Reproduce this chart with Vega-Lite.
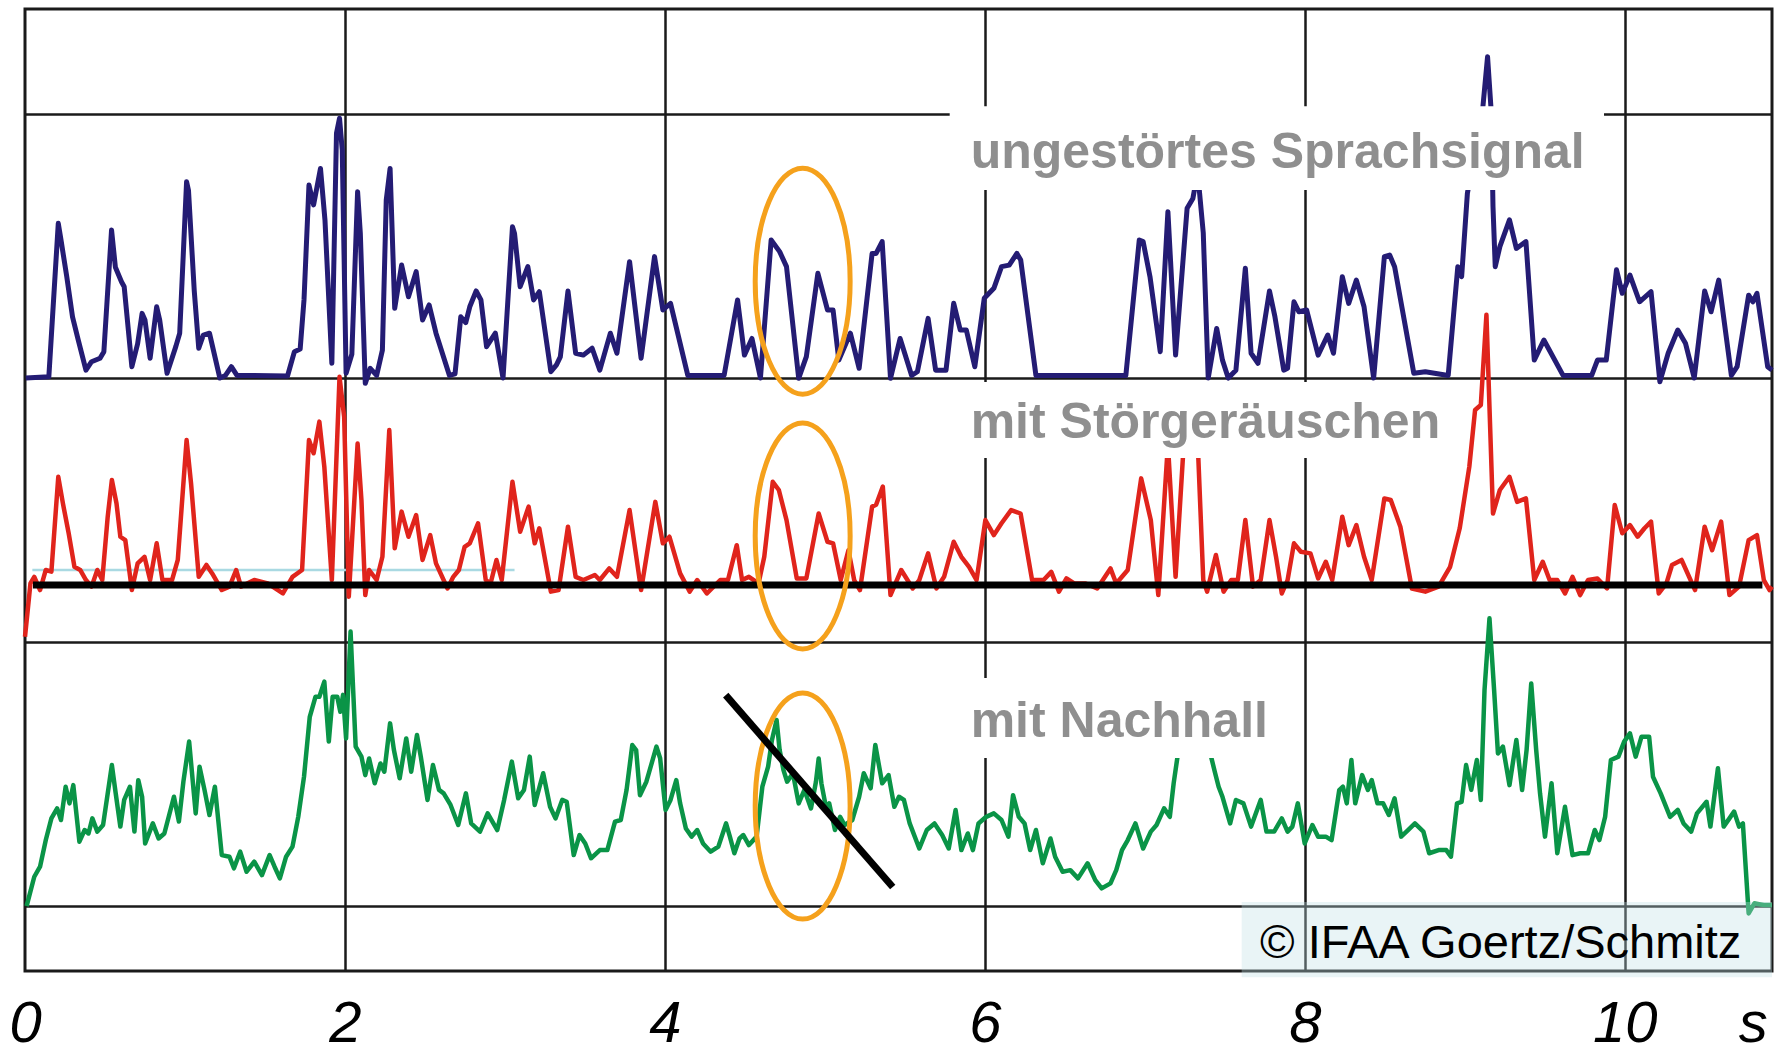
{
  "$schema": "https://vega.github.io/schema/vega-lite/v6.json",
  "width": 1747,
  "height": 962,
  "autosize": {"type": "none"},
  "padding": {"left": 25, "top": 9, "right": 3, "bottom": 82},
  "background": "white",
  "config": {
    "view": {"stroke": "#1a1a1a", "strokeWidth": 3},
    "axis": {"gridColor": "#1a1a1a", "gridWidth": 2.5}
  },
  "datasets": {
    "blue": [
      {"t":0.005,"v":2.0},{"t":0.149,"v":2.005},{"t":0.208,"v":2.586},{"t":0.225,"v":2.523},{"t":0.261,"v":2.384},{"t":0.297,"v":2.232},{"t":0.333,"v":2.144},{"t":0.381,"v":2.03},{"t":0.416,"v":2.062},{"t":0.469,"v":2.075},{"t":0.493,"v":2.1},{"t":0.541,"v":2.561},{"t":0.565,"v":2.42},{"t":0.603,"v":2.365},{"t":0.62,"v":2.346},{"t":0.668,"v":2.043},{"t":0.704,"v":2.13},{"t":0.732,"v":2.245},{"t":0.75,"v":2.22},{"t":0.782,"v":2.075},{"t":0.823,"v":2.27},{"t":0.842,"v":2.22},{"t":0.888,"v":2.018},{"t":0.943,"v":2.12},{"t":0.967,"v":2.17},{"t":1.01,"v":2.744},{"t":1.022,"v":2.71},{"t":1.058,"v":2.33},{"t":1.086,"v":2.113},{"t":1.115,"v":2.163},{"t":1.153,"v":2.17},{"t":1.218,"v":2.0},{"t":1.253,"v":2.01},{"t":1.29,"v":2.043},{"t":1.325,"v":2.01},{"t":1.641,"v":2.008},{"t":1.684,"v":2.1},{"t":1.72,"v":2.11},{"t":1.744,"v":2.296},{"t":1.775,"v":2.731},{"t":1.804,"v":2.656},{"t":1.847,"v":2.794},{"t":1.875,"v":2.599},{"t":1.918,"v":2.056},{"t":1.947,"v":2.927},{"t":1.966,"v":2.984},{"t":1.983,"v":2.864},{"t":2.007,"v":2.018},{"t":2.043,"v":2.09},{"t":2.079,"v":2.706},{"t":2.096,"v":2.548},{"t":2.127,"v":1.98},{"t":2.158,"v":2.037},{"t":2.198,"v":2.01},{"t":2.234,"v":2.106},{"t":2.258,"v":2.674},{"t":2.282,"v":2.794},{"t":2.311,"v":2.264},{"t":2.354,"v":2.428},{"t":2.397,"v":2.308},{"t":2.445,"v":2.403},{"t":2.485,"v":2.22},{"t":2.526,"v":2.277},{"t":2.569,"v":2.17},{"t":2.653,"v":2.01},{"t":2.688,"v":2.016},{"t":2.724,"v":2.232},{"t":2.755,"v":2.21},{"t":2.78,"v":2.27},{"t":2.82,"v":2.33},{"t":2.85,"v":2.296},{"t":2.885,"v":2.119},{"t":2.94,"v":2.17},{"t":2.988,"v":2.0},{"t":3.047,"v":2.573},{"t":3.06,"v":2.548},{"t":3.095,"v":2.346},{"t":3.143,"v":2.422},{"t":3.179,"v":2.296},{"t":3.215,"v":2.327},{"t":3.287,"v":2.024},{"t":3.322,"v":2.05},{"t":3.346,"v":2.08},{"t":3.394,"v":2.33},{"t":3.442,"v":2.094},{"t":3.49,"v":2.087},{"t":3.545,"v":2.113},{"t":3.593,"v":2.03},{"t":3.659,"v":2.17},{"t":3.7,"v":2.094},{"t":3.779,"v":2.441},{"t":3.851,"v":2.075},{"t":3.935,"v":2.46},{"t":3.987,"v":2.258},{"t":4.035,"v":2.283},{"t":4.143,"v":2.01},{"t":4.37,"v":2.01},{"t":4.454,"v":2.296},{"t":4.497,"v":2.087},{"t":4.544,"v":2.15},{"t":4.597,"v":2.0},{"t":4.664,"v":2.523},{"t":4.717,"v":2.479},{"t":4.76,"v":2.422},{"t":4.836,"v":1.999},{"t":4.884,"v":2.081},{"t":4.956,"v":2.397},{"t":5.016,"v":2.258},{"t":5.051,"v":2.258},{"t":5.087,"v":2.068},{"t":5.159,"v":2.17},{"t":5.214,"v":2.037},{"t":5.295,"v":2.472},{"t":5.32,"v":2.472},{"t":5.358,"v":2.517},{"t":5.41,"v":1.999},{"t":5.47,"v":2.15},{"t":5.542,"v":2.01},{"t":5.578,"v":2.024},{"t":5.645,"v":2.226},{"t":5.692,"v":2.03},{"t":5.757,"v":2.03},{"t":5.805,"v":2.283},{"t":5.846,"v":2.182},{"t":5.884,"v":2.182},{"t":5.937,"v":2.043},{"t":5.996,"v":2.302},{"t":6.056,"v":2.34},{"t":6.104,"v":2.422},{"t":6.152,"v":2.428},{"t":6.2,"v":2.472},{"t":6.224,"v":2.447},{"t":6.319,"v":2.01},{"t":6.881,"v":2.01},{"t":6.965,"v":2.523},{"t":6.989,"v":2.517},{"t":7.032,"v":2.384},{"t":7.096,"v":2.1},{"t":7.144,"v":2.63},{"t":7.192,"v":2.087},{"t":7.264,"v":2.643},{"t":7.3,"v":2.68},{"t":7.33,"v":2.78},{"t":7.365,"v":2.55},{"t":7.396,"v":2.0},{"t":7.449,"v":2.188},{"t":7.485,"v":2.068},{"t":7.521,"v":2.0},{"t":7.569,"v":2.03},{"t":7.628,"v":2.416},{"t":7.664,"v":2.094},{"t":7.707,"v":2.056},{"t":7.779,"v":2.33},{"t":7.813,"v":2.232},{"t":7.868,"v":2.03},{"t":7.892,"v":2.037},{"t":7.932,"v":2.289},{"t":7.963,"v":2.251},{"t":8.011,"v":2.258},{"t":8.083,"v":2.087},{"t":8.143,"v":2.163},{"t":8.179,"v":2.094},{"t":8.234,"v":2.384},{"t":8.274,"v":2.283},{"t":8.322,"v":2.371},{"t":8.37,"v":2.27},{"t":8.43,"v":2.0},{"t":8.497,"v":2.46},{"t":8.53,"v":2.466},{"t":8.561,"v":2.422},{"t":8.681,"v":2.018},{"t":8.753,"v":2.024},{"t":8.896,"v":2.01},{"t":8.956,"v":2.422},{"t":8.98,"v":2.384},{"t":9.016,"v":2.7},{"t":9.111,"v":3.015},{"t":9.142,"v":3.217},{"t":9.166,"v":3.0},{"t":9.176,"v":2.65},{"t":9.19,"v":2.422},{"t":9.219,"v":2.498},{"t":9.279,"v":2.599},{"t":9.322,"v":2.491},{"t":9.382,"v":2.517},{"t":9.434,"v":2.068},{"t":9.494,"v":2.144},{"t":9.614,"v":2.01},{"t":9.793,"v":2.01},{"t":9.829,"v":2.068},{"t":9.884,"v":2.068},{"t":9.948,"v":2.41},{"t":9.984,"v":2.321},{"t":10.032,"v":2.39},{"t":10.092,"v":2.289},{"t":10.164,"v":2.327},{"t":10.219,"v":1.986},{"t":10.271,"v":2.094},{"t":10.331,"v":2.182},{"t":10.379,"v":2.132},{"t":10.434,"v":2.0},{"t":10.499,"v":2.33},{"t":10.539,"v":2.251},{"t":10.587,"v":2.371},{"t":10.666,"v":2.01},{"t":10.702,"v":2.043},{"t":10.774,"v":2.314},{"t":10.8,"v":2.289},{"t":10.826,"v":2.321},{"t":10.893,"v":2.043},{"t":10.92,"v":2.03}
    ],
    "red": [
      {"t":0.0,"v":1.02},{"t":0.034,"v":1.222},{"t":0.058,"v":1.247},{"t":0.094,"v":1.197},{"t":0.13,"v":1.273},{"t":0.165,"v":1.267},{"t":0.208,"v":1.626},{"t":0.237,"v":1.525},{"t":0.273,"v":1.412},{"t":0.309,"v":1.285},{"t":0.345,"v":1.273},{"t":0.381,"v":1.235},{"t":0.416,"v":1.21},{"t":0.452,"v":1.273},{"t":0.483,"v":1.235},{"t":0.517,"v":1.475},{"t":0.543,"v":1.614},{"t":0.572,"v":1.525},{"t":0.596,"v":1.399},{"t":0.627,"v":1.386},{"t":0.668,"v":1.197},{"t":0.704,"v":1.298},{"t":0.747,"v":1.323},{"t":0.782,"v":1.235},{"t":0.823,"v":1.374},{"t":0.859,"v":1.235},{"t":0.919,"v":1.235},{"t":0.955,"v":1.311},{"t":1.01,"v":1.765},{"t":1.038,"v":1.601},{"t":1.086,"v":1.247},{"t":1.134,"v":1.292},{"t":1.17,"v":1.26},{"t":1.23,"v":1.197},{"t":1.278,"v":1.21},{"t":1.32,"v":1.273},{"t":1.35,"v":1.21},{"t":1.433,"v":1.235},{"t":1.517,"v":1.222},{"t":1.612,"v":1.184},{"t":1.672,"v":1.247},{"t":1.732,"v":1.273},{"t":1.775,"v":1.765},{"t":1.804,"v":1.715},{"t":1.84,"v":1.835},{"t":1.871,"v":1.664},{"t":1.918,"v":1.235},{"t":1.966,"v":2.005},{"t":1.995,"v":1.853},{"t":2.024,"v":1.172},{"t":2.079,"v":1.752},{"t":2.103,"v":1.538},{"t":2.127,"v":1.178},{"t":2.151,"v":1.273},{"t":2.198,"v":1.235},{"t":2.234,"v":1.323},{"t":2.277,"v":1.803},{"t":2.311,"v":1.355},{"t":2.354,"v":1.494},{"t":2.397,"v":1.399},{"t":2.445,"v":1.481},{"t":2.485,"v":1.311},{"t":2.533,"v":1.405},{"t":2.569,"v":1.298},{"t":2.641,"v":1.203},{"t":2.677,"v":1.247},{"t":2.712,"v":1.273},{"t":2.748,"v":1.361},{"t":2.78,"v":1.374},{"t":2.832,"v":1.45},{"t":2.88,"v":1.235},{"t":2.91,"v":1.222},{"t":2.947,"v":1.311},{"t":2.98,"v":1.235},{"t":3.047,"v":1.607},{"t":3.095,"v":1.418},{"t":3.148,"v":1.513},{"t":3.186,"v":1.374},{"t":3.215,"v":1.431},{"t":3.287,"v":1.191},{"t":3.335,"v":1.197},{"t":3.394,"v":1.437},{"t":3.442,"v":1.247},{"t":3.49,"v":1.235},{"t":3.562,"v":1.254},{"t":3.593,"v":1.235},{"t":3.652,"v":1.279},{"t":3.7,"v":1.247},{"t":3.779,"v":1.5},{"t":3.851,"v":1.197},{"t":3.94,"v":1.531},{"t":3.987,"v":1.374},{"t":4.028,"v":1.399},{"t":4.095,"v":1.26},{"t":4.155,"v":1.191},{"t":4.202,"v":1.235},{"t":4.262,"v":1.184},{"t":4.346,"v":1.235},{"t":4.394,"v":1.235},{"t":4.449,"v":1.367},{"t":4.482,"v":1.235},{"t":4.525,"v":1.247},{"t":4.585,"v":1.222},{"t":4.621,"v":1.323},{"t":4.674,"v":1.607},{"t":4.712,"v":1.576},{"t":4.76,"v":1.462},{"t":4.824,"v":1.241},{"t":4.884,"v":1.241},{"t":4.961,"v":1.487},{"t":5.016,"v":1.38},{"t":5.051,"v":1.374},{"t":5.099,"v":1.235},{"t":5.147,"v":1.348},{"t":5.183,"v":1.235},{"t":5.219,"v":1.197},{"t":5.295,"v":1.513},{"t":5.32,"v":1.52},{"t":5.362,"v":1.589},{"t":5.41,"v":1.178},{"t":5.477,"v":1.273},{"t":5.549,"v":1.203},{"t":5.59,"v":1.235},{"t":5.645,"v":1.336},{"t":5.697,"v":1.203},{"t":5.745,"v":1.247},{"t":5.805,"v":1.38},{"t":5.853,"v":1.323},{"t":5.901,"v":1.285},{"t":5.948,"v":1.235},{"t":6.003,"v":1.462},{"t":6.056,"v":1.405},{"t":6.104,"v":1.45},{"t":6.164,"v":1.5},{"t":6.223,"v":1.487},{"t":6.295,"v":1.235},{"t":6.367,"v":1.235},{"t":6.415,"v":1.266},{"t":6.463,"v":1.191},{"t":6.51,"v":1.241},{"t":6.558,"v":1.222},{"t":6.63,"v":1.222},{"t":6.702,"v":1.203},{"t":6.785,"v":1.279},{"t":6.821,"v":1.222},{"t":6.893,"v":1.273},{"t":6.977,"v":1.62},{"t":7.037,"v":1.462},{"t":7.084,"v":1.178},{"t":7.144,"v":1.75},{"t":7.192,"v":1.247},{"t":7.24,"v":1.72},{"t":7.3,"v":1.77},{"t":7.33,"v":1.76},{"t":7.365,"v":1.235},{"t":7.389,"v":1.191},{"t":7.444,"v":1.33},{"t":7.492,"v":1.191},{"t":7.54,"v":1.235},{"t":7.581,"v":1.235},{"t":7.628,"v":1.462},{"t":7.676,"v":1.21},{"t":7.724,"v":1.235},{"t":7.779,"v":1.462},{"t":7.82,"v":1.323},{"t":7.856,"v":1.184},{"t":7.892,"v":1.235},{"t":7.932,"v":1.374},{"t":7.975,"v":1.342},{"t":8.035,"v":1.336},{"t":8.083,"v":1.241},{"t":8.131,"v":1.304},{"t":8.171,"v":1.235},{"t":8.234,"v":1.475},{"t":8.274,"v":1.367},{"t":8.322,"v":1.443},{"t":8.37,"v":1.323},{"t":8.418,"v":1.235},{"t":8.497,"v":1.544},{"t":8.537,"v":1.538},{"t":8.597,"v":1.437},{"t":8.669,"v":1.203},{"t":8.753,"v":1.191},{"t":8.836,"v":1.21},{"t":8.908,"v":1.285},{"t":8.968,"v":1.431},{"t":9.028,"v":1.664},{"t":9.064,"v":1.879},{"t":9.1,"v":1.898},{"t":9.135,"v":2.24},{"t":9.176,"v":1.487},{"t":9.219,"v":1.576},{"t":9.279,"v":1.626},{"t":9.327,"v":1.531},{"t":9.382,"v":1.544},{"t":9.434,"v":1.235},{"t":9.487,"v":1.304},{"t":9.53,"v":1.235},{"t":9.578,"v":1.235},{"t":9.626,"v":1.184},{"t":9.673,"v":1.247},{"t":9.721,"v":1.178},{"t":9.77,"v":1.235},{"t":9.829,"v":1.241},{"t":9.889,"v":1.203},{"t":9.937,"v":1.519},{"t":9.984,"v":1.412},{"t":10.032,"v":1.443},{"t":10.08,"v":1.399},{"t":10.123,"v":1.431},{"t":10.164,"v":1.456},{"t":10.212,"v":1.184},{"t":10.26,"v":1.222},{"t":10.295,"v":1.292},{"t":10.355,"v":1.311},{"t":10.439,"v":1.197},{"t":10.499,"v":1.437},{"t":10.546,"v":1.348},{"t":10.602,"v":1.456},{"t":10.654,"v":1.178},{"t":10.714,"v":1.21},{"t":10.774,"v":1.386},{"t":10.826,"v":1.405},{"t":10.869,"v":1.235},{"t":10.905,"v":1.197},{"t":10.92,"v":1.21}
    ],
    "green": [
      {"t":0.01,"v":0.0},{"t":0.058,"v":0.111},{"t":0.094,"v":0.149},{"t":0.13,"v":0.25},{"t":0.165,"v":0.332},{"t":0.201,"v":0.37},{"t":0.225,"v":0.326},{"t":0.254,"v":0.452},{"t":0.278,"v":0.389},{"t":0.302,"v":0.458},{"t":0.34,"v":0.244},{"t":0.373,"v":0.288},{"t":0.397,"v":0.275},{"t":0.421,"v":0.332},{"t":0.452,"v":0.282},{"t":0.488,"v":0.307},{"t":0.543,"v":0.534},{"t":0.567,"v":0.427},{"t":0.596,"v":0.301},{"t":0.62,"v":0.402},{"t":0.656,"v":0.452},{"t":0.684,"v":0.282},{"t":0.708,"v":0.477},{"t":0.732,"v":0.414},{"t":0.751,"v":0.237},{"t":0.799,"v":0.313},{"t":0.835,"v":0.256},{"t":0.871,"v":0.275},{"t":0.931,"v":0.414},{"t":0.962,"v":0.32},{"t":0.99,"v":0.471},{"t":1.026,"v":0.623},{"t":1.067,"v":0.351},{"t":1.091,"v":0.528},{"t":1.122,"v":0.44},{"t":1.153,"v":0.345},{"t":1.187,"v":0.452},{"t":1.23,"v":0.193},{"t":1.278,"v":0.187},{"t":1.306,"v":0.143},{"t":1.345,"v":0.206},{"t":1.385,"v":0.13},{"t":1.433,"v":0.168},{"t":1.481,"v":0.117},{"t":1.529,"v":0.193},{"t":1.56,"v":0.149},{"t":1.593,"v":0.105},{"t":1.632,"v":0.187},{"t":1.672,"v":0.225},{"t":1.708,"v":0.338},{"t":1.744,"v":0.49},{"t":1.78,"v":0.717},{"t":1.816,"v":0.793},{"t":1.84,"v":0.793},{"t":1.871,"v":0.85},{"t":1.899,"v":0.623},{"t":1.923,"v":0.793},{"t":1.952,"v":0.793},{"t":1.971,"v":0.736},{"t":1.988,"v":0.8},{"t":2.007,"v":0.635},{"t":2.035,"v":1.04},{"t":2.067,"v":0.604},{"t":2.103,"v":0.566},{"t":2.127,"v":0.496},{"t":2.151,"v":0.559},{"t":2.186,"v":0.465},{"t":2.222,"v":0.54},{"t":2.246,"v":0.509},{"t":2.282,"v":0.692},{"t":2.306,"v":0.591},{"t":2.342,"v":0.484},{"t":2.383,"v":0.635},{"t":2.414,"v":0.509},{"t":2.45,"v":0.648},{"t":2.474,"v":0.566},{"t":2.516,"v":0.402},{"t":2.55,"v":0.534},{"t":2.588,"v":0.44},{"t":2.617,"v":0.427},{"t":2.66,"v":0.383},{"t":2.708,"v":0.307},{"t":2.756,"v":0.427},{"t":2.789,"v":0.313},{"t":2.844,"v":0.282},{"t":2.892,"v":0.351},{"t":2.952,"v":0.288},{"t":2.995,"v":0.402},{"t":3.043,"v":0.547},{"t":3.083,"v":0.408},{"t":3.119,"v":0.44},{"t":3.155,"v":0.566},{"t":3.186,"v":0.383},{"t":3.239,"v":0.503},{"t":3.282,"v":0.376},{"t":3.316,"v":0.332},{"t":3.358,"v":0.402},{"t":3.386,"v":0.395},{"t":3.43,"v":0.193},{"t":3.466,"v":0.269},{"t":3.502,"v":0.237},{"t":3.538,"v":0.181},{"t":3.593,"v":0.212},{"t":3.64,"v":0.212},{"t":3.688,"v":0.32},{"t":3.724,"v":0.326},{"t":3.76,"v":0.439},{"t":3.796,"v":0.61},{"t":3.82,"v":0.591},{"t":3.844,"v":0.42},{"t":3.884,"v":0.471},{"t":3.947,"v":0.604},{"t":3.97,"v":0.56},{"t":4.004,"v":0.364},{"t":4.035,"v":0.402},{"t":4.071,"v":0.477},{"t":4.095,"v":0.389},{"t":4.131,"v":0.294},{"t":4.167,"v":0.263},{"t":4.202,"v":0.288},{"t":4.238,"v":0.237},{"t":4.286,"v":0.206},{"t":4.334,"v":0.225},{"t":4.382,"v":0.313},{"t":4.406,"v":0.263},{"t":4.434,"v":0.2},{"t":4.466,"v":0.256},{"t":4.49,"v":0.269},{"t":4.525,"v":0.231},{"t":4.573,"v":0.263},{"t":4.609,"v":0.452},{"t":4.645,"v":0.528},{"t":4.669,"v":0.629},{"t":4.698,"v":0.705},{"t":4.717,"v":0.591},{"t":4.741,"v":0.515},{"t":4.764,"v":0.471},{"t":4.8,"v":0.503},{"t":4.836,"v":0.389},{"t":4.872,"v":0.44},{"t":4.913,"v":0.37},{"t":4.944,"v":0.471},{"t":4.961,"v":0.559},{"t":4.978,"v":0.465},{"t":5.008,"v":0.37},{"t":5.027,"v":0.389},{"t":5.063,"v":0.288},{"t":5.095,"v":0.338},{"t":5.123,"v":0.307},{"t":5.171,"v":0.326},{"t":5.214,"v":0.414},{"t":5.243,"v":0.503},{"t":5.286,"v":0.446},{"t":5.315,"v":0.61},{"t":5.358,"v":0.465},{"t":5.398,"v":0.496},{"t":5.434,"v":0.376},{"t":5.463,"v":0.414},{"t":5.494,"v":0.402},{"t":5.53,"v":0.313},{"t":5.59,"v":0.218},{"t":5.637,"v":0.288},{"t":5.685,"v":0.313},{"t":5.733,"v":0.269},{"t":5.774,"v":0.218},{"t":5.817,"v":0.364},{"t":5.853,"v":0.212},{"t":5.893,"v":0.275},{"t":5.925,"v":0.212},{"t":5.96,"v":0.313},{"t":6.008,"v":0.338},{"t":6.056,"v":0.351},{"t":6.104,"v":0.326},{"t":6.147,"v":0.263},{"t":6.176,"v":0.42},{"t":6.212,"v":0.338},{"t":6.248,"v":0.313},{"t":6.283,"v":0.212},{"t":6.319,"v":0.288},{"t":6.362,"v":0.162},{"t":6.41,"v":0.256},{"t":6.439,"v":0.187},{"t":6.486,"v":0.13},{"t":6.534,"v":0.136},{"t":6.582,"v":0.105},{"t":6.642,"v":0.162},{"t":6.69,"v":0.098},{"t":6.73,"v":0.067},{"t":6.785,"v":0.086},{"t":6.821,"v":0.136},{"t":6.857,"v":0.212},{"t":6.893,"v":0.25},{"t":6.941,"v":0.313},{"t":6.989,"v":0.218},{"t":7.037,"v":0.282},{"t":7.073,"v":0.307},{"t":7.12,"v":0.37},{"t":7.156,"v":0.338},{"t":7.18,"v":0.465},{"t":7.204,"v":0.566},{"t":7.25,"v":0.62},{"t":7.3,"v":0.6},{"t":7.35,"v":0.64},{"t":7.4,"v":0.6},{"t":7.437,"v":0.509},{"t":7.461,"v":0.452},{"t":7.485,"v":0.414},{"t":7.533,"v":0.313},{"t":7.569,"v":0.402},{"t":7.616,"v":0.389},{"t":7.664,"v":0.301},{"t":7.724,"v":0.402},{"t":7.76,"v":0.282},{"t":7.808,"v":0.282},{"t":7.856,"v":0.332},{"t":7.892,"v":0.282},{"t":7.922,"v":0.301},{"t":7.956,"v":0.389},{"t":7.999,"v":0.237},{"t":8.047,"v":0.307},{"t":8.083,"v":0.263},{"t":8.131,"v":0.263},{"t":8.167,"v":0.25},{"t":8.215,"v":0.439},{"t":8.238,"v":0.452},{"t":8.262,"v":0.389},{"t":8.291,"v":0.553},{"t":8.315,"v":0.389},{"t":8.358,"v":0.496},{"t":8.394,"v":0.44},{"t":8.418,"v":0.477},{"t":8.454,"v":0.389},{"t":8.489,"v":0.389},{"t":8.525,"v":0.345},{"t":8.561,"v":0.408},{"t":8.602,"v":0.263},{"t":8.645,"v":0.288},{"t":8.688,"v":0.313},{"t":8.741,"v":0.282},{"t":8.777,"v":0.2},{"t":8.836,"v":0.212},{"t":8.884,"v":0.212},{"t":8.913,"v":0.187},{"t":8.951,"v":0.389},{"t":8.98,"v":0.395},{"t":9.008,"v":0.534},{"t":9.04,"v":0.44},{"t":9.075,"v":0.553},{"t":9.1,"v":0.402},{"t":9.123,"v":0.818},{"t":9.154,"v":1.09},{"t":9.183,"v":0.818},{"t":9.207,"v":0.578},{"t":9.238,"v":0.604},{"t":9.279,"v":0.458},{"t":9.322,"v":0.629},{"t":9.358,"v":0.44},{"t":9.386,"v":0.591},{"t":9.415,"v":0.843},{"t":9.446,"v":0.591},{"t":9.47,"v":0.427},{"t":9.501,"v":0.263},{"t":9.542,"v":0.465},{"t":9.578,"v":0.2},{"t":9.626,"v":0.376},{"t":9.673,"v":0.193},{"t":9.721,"v":0.2},{"t":9.77,"v":0.2},{"t":9.812,"v":0.288},{"t":9.841,"v":0.25},{"t":9.877,"v":0.338},{"t":9.913,"v":0.553},{"t":9.96,"v":0.566},{"t":9.996,"v":0.623},{"t":10.032,"v":0.654},{"t":10.068,"v":0.566},{"t":10.104,"v":0.641},{"t":10.152,"v":0.641},{"t":10.176,"v":0.49},{"t":10.224,"v":0.427},{"t":10.283,"v":0.338},{"t":10.331,"v":0.364},{"t":10.367,"v":0.313},{"t":10.415,"v":0.282},{"t":10.451,"v":0.351},{"t":10.511,"v":0.395},{"t":10.535,"v":0.301},{"t":10.582,"v":0.522},{"t":10.618,"v":0.301},{"t":10.654,"v":0.332},{"t":10.683,"v":0.358},{"t":10.714,"v":0.301},{"t":10.738,"v":0.313},{"t":10.774,"v":-0.028},{"t":10.81,"v":0.01},{"t":10.869,"v":0.004},{"t":10.92,"v":0.004}
    ],
    "boxes": [
      {"t":5.78,"t2":9.87,"v":2.712,"v2":3.03},
      {"t":5.78,"t2":8.94,"v":1.697,"v2":1.985},
      {"t":5.78,"t2":7.8,"v":0.561,"v2":0.864}
    ],
    "labels": [
      {"t":5.911,"v":2.795,"text":"ungestörtes Sprachsignal"},
      {"t":5.911,"v":1.773,"text":"mit Störgeräuschen"},
      {"t":5.911,"v":0.64,"text":"mit Nachhall"}
    ],
    "rings": [
      {"t":4.861,"v":2.367},
      {"t":4.861,"v":1.402},
      {"t":4.861,"v":0.379}
    ],
    "diag": [{"t":4.38,"v":0.799,"t2":5.424,"v2":0.072}],
    "floor": [{"t":0.05,"t2":10.86,"v":1.216}],
    "thresh": [{"t":0.046,"t2":3.06,"v":1.273}],
    "creditbox": [{"t":7.605,"t2":10.92,"v":-0.27,"v2":0.015}],
    "credit": [{"t":7.72,"v":-0.197,"text":"© IFAA Goertz/Schmitz"}]
  },
  "encoding": {
    "x": {
      "field": "t",
      "type": "quantitative",
      "scale": {"domain": [0, 10.92], "nice": false, "zero": false},
      "axis": {
        "title": null,
        "values": [0, 2, 4, 6, 8, 10, 10.8],
        "grid": true,
        "gridOpacity": {"condition": {"test": "datum.value > 10.5 || datum.value < 0.5", "value": 0}, "value": 1},
        "labelExpr": "datum.value > 10.5 ? 's' : datum.label",
        "domain": false,
        "ticks": false,
        "labelPadding": 24,
        "labelFont": "Liberation Sans",
        "labelFontStyle": "italic",
        "labelFontSize": 58,
        "labelColor": "#000000",
        "labelBaseline": "top",
        "labelFlush": false,
        "labelOverlap": false,
        "labelBound": false
      }
    },
    "y": {
      "field": "v",
      "type": "quantitative",
      "scale": {"domain": [-0.246, 3.398], "nice": false, "zero": false},
      "axis": {"title": null, "values": [0, 1, 2, 3], "grid": true, "labels": false, "ticks": false, "domain": false}
    }
  },
  "layer": [
    {
      "data": {"name": "thresh"},
      "mark": {"type": "rule", "color": "#a9d9e2", "strokeWidth": 2.5},
      "encoding": {"x2": {"field": "t2"}}
    },
    {
      "data": {"name": "blue"},
      "mark": {"type": "line", "color": "#241c74", "strokeWidth": 5, "strokeJoin": "round"}
    },
    {
      "data": {"name": "red"},
      "mark": {"type": "line", "color": "#e0241c", "strokeWidth": 4.5, "strokeJoin": "round"}
    },
    {
      "data": {"name": "floor"},
      "mark": {"type": "rule", "color": "#000000", "strokeWidth": 7},
      "encoding": {"x2": {"field": "t2"}}
    },
    {
      "data": {"name": "green"},
      "mark": {"type": "line", "color": "#0a9447", "strokeWidth": 4.5, "strokeJoin": "round"}
    },
    {
      "data": {"name": "boxes"},
      "mark": {"type": "rect", "fill": "#ffffff", "strokeWidth": 0},
      "encoding": {"x2": {"field": "t2"}, "y2": {"field": "v2"}}
    },
    {
      "data": {"name": "labels"},
      "mark": {"type": "text", "align": "left", "baseline": "alphabetic", "font": "Liberation Sans", "fontWeight": "bold", "fontSize": 50, "color": "#8f8f8f"},
      "encoding": {"text": {"field": "text"}}
    },
    {
      "data": {"name": "rings"},
      "mark": {
        "type": "point",
        "shape": "M0,-1C0.232,-1 0.42,-0.5523 0.42,0C0.42,0.5523 0.232,1 0,1C-0.232,1 -0.42,0.5523 -0.42,0C-0.42,-0.5523 -0.232,-1 0,-1Z",
        "size": 51100,
        "filled": false,
        "stroke": "#f5a11c",
        "strokeWidth": 5,
        "opacity": 1
      }
    },
    {
      "data": {"name": "diag"},
      "mark": {"type": "rule", "color": "#000000", "strokeWidth": 7},
      "encoding": {"x2": {"field": "t2"}, "y2": {"field": "v2"}}
    },
    {
      "data": {"name": "creditbox"},
      "mark": {"type": "rect", "fill": "#bfe0e4", "fillOpacity": 0.35, "strokeWidth": 0},
      "encoding": {"x2": {"field": "t2"}, "y2": {"field": "v2"}}
    },
    {
      "data": {"name": "credit"},
      "mark": {"type": "text", "align": "left", "baseline": "alphabetic", "font": "Liberation Sans", "fontSize": 47, "color": "#000000"},
      "encoding": {"text": {"field": "text"}}
    }
  ]
}
